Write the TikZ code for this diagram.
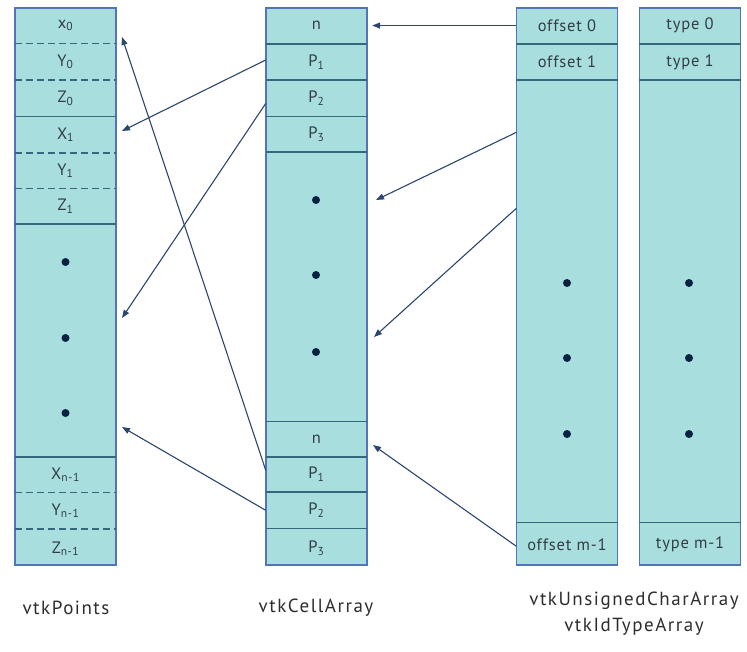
\documentclass[tikz,border=0pt]{standalone}
\usepackage{fontspec}
\setmainfont{PT Sans}
\newfontfamily\cellfont[LetterSpace=5]{PT Sans}
\newfontfamily\capfont[LetterSpace=8]{PT Sans}
\usetikzlibrary{arrows.meta, positioning}

\definecolor{cellfill}{RGB}{168,222,222}
\definecolor{colborder}{RGB}{84,116,186}
\definecolor{sepline}{RGB}{52,104,124}
\definecolor{arrowcol}{RGB}{44,70,110}
\definecolor{dotcol}{RGB}{10,34,66}
\definecolor{celltext}{RGB}{50,62,68}
\definecolor{labeltext}{RGB}{45,45,45}

\begin{document}
\begin{tikzpicture}[
        x=1pt, y=-1pt,
        node distance=0pt,
        column/.style={rectangle, draw=colborder, fill=cellfill, line width=1.3pt, minimum width=101pt, minimum height=557pt, inner sep=0pt},
        cell/.style={rectangle, minimum width=101pt, minimum height=36pt, inner sep=0pt, font=\cellfont\fontsize{16.5}{19}\selectfont, text=celltext},
        sep/.style={draw=sepline, line width=1.6pt},
        dsep/.style={sep, line width=1.3pt, dash pattern=on 7pt off 4pt},
        dot/.style={circle, fill=dotcol, inner sep=0pt, minimum size=8pt},
        ptr/.style={draw=arrowcol, line width=1.1pt, -{Triangle[length=8pt,width=6pt]}},
        caption/.style={font=\capfont\fontsize{19}{22}\selectfont, text=labeltext}
    ]

    \useasboundingbox (0,0) rectangle (747,652);

    % Columns
    \node [column] (pts) at (65.5,286.5) {};
    \node [column] (cells) at (316.5,286.5) {};
    \node [column] (offs) at (567,286.5) {};
    \node [column] (types) at (690,286.5) {};

    % vtkPoints
    \node [cell, below=of pts.north] (x0) {x\textsubscript{0}};
    \node [cell, below=of x0] (y0) {Y\textsubscript{0}};
    \node [cell, below=of y0] (z0) {Z\textsubscript{0}};
    \node [cell, below=of z0] (x1) {X\textsubscript{1}};
    \node [cell, minimum height=35pt, below=of x1] (y1) {Y\textsubscript{1}};
    \node [cell, minimum height=35pt, below=of y1] (z1) {Z\textsubscript{1}};
    \node [cell, minimum height=233pt, below=of z1] (pdots) {};
    \node [cell, minimum height=35pt, below=of pdots] (xn) {X\textsubscript{n-1}};
    \node [cell, below=of xn] (yn) {Y\textsubscript{n-1}};
    \node [cell, minimum height=39pt, below=of yn] (zn) {Z\textsubscript{n-1}};

    % vtkCellArray
    \node [cell, below=of cells.north] (n0) {n};
    \node [cell, below=of n0] (p1) {P\textsubscript{1}};
    \node [cell, below=of p1] (p2) {P\textsubscript{2}};
    \node [cell, minimum height=35pt, below=of p2] (p3) {P\textsubscript{3}};
    \node [cell, minimum height=269pt, below=of p3] (cdots) {};
    \node [cell, minimum height=35pt, below=of cdots] (nk) {n};
    \node [cell, minimum height=35pt, below=of nk] (q1) {P\textsubscript{1}};
    \node [cell, below=of q1] (q2) {P\textsubscript{2}};
    \node [cell, minimum height=39pt, below=of q2] (q3) {P\textsubscript{3}};

    % offsets and types
    \node [cell, below=of offs.north] (off0) {offset 0};
    \node [cell, below=of off0] (off1) {offset 1};
    \node [cell, minimum height=442pt, below=of off1] (odots) {};
    \node [cell, minimum height=43pt, below=of odots] (offm) {offset m-1};
    \node [cell, below=of types.north] (typ0) {type 0};
    \node [cell, below=of typ0] (typ1) {type 1};
    \node [cell, minimum height=442pt, below=of typ1] (tdots) {};
    \node [cell, minimum height=43pt, below=of tdots] (typm) {type m-1};

    % Separators
    \draw [dsep] (x0.south west) -- (x0.south east);
    \draw [dsep] (y0.south west) -- (y0.south east);
    \draw [sep] (z0.south west) -- (z0.south east);
    \draw [dsep] (x1.south west) -- (x1.south east);
    \draw [dsep] (y1.south west) -- (y1.south east);
    \draw [sep] (z1.south west) -- (z1.south east);
    \draw [sep] (pdots.south west) -- (pdots.south east);
    \draw [dsep] (xn.south west) -- (xn.south east);
    \draw [dsep] (yn.south west) -- (yn.south east);
    \draw [sep] (n0.south west) -- (n0.south east);
    \draw [sep] (p1.south west) -- (p1.south east);
    \draw [sep] (p2.south west) -- (p2.south east);
    \draw [sep] (p3.south west) -- (p3.south east);
    \draw [sep] (cdots.south west) -- (cdots.south east);
    \draw [sep] (nk.south west) -- (nk.south east);
    \draw [sep] (q1.south west) -- (q1.south east);
    \draw [sep] (q2.south west) -- (q2.south east);
    \draw [sep] (off0.south west) -- (off0.south east);
    \draw [sep] (off1.south west) -- (off1.south east);
    \draw [sep] (odots.south west) -- (odots.south east);
    \draw [sep] (typ0.south west) -- (typ0.south east);
    \draw [sep] (typ1.south west) -- (typ1.south east);
    \draw [sep] (tdots.south west) -- (tdots.south east);

    % Dots
    \foreach \y [count=\i] in {262,338,413}
        \node [dot] (pd\i) at (65.5,\y) {};
    \foreach \y [count=\i] in {200,275,352}
        \node [dot] (cd\i) at (316,\y) {};
    \foreach \y [count=\i] in {283,358,434} {
        \node [dot] (od\i) at (567,\y) {};
        \node [dot] (td\i) at (689,\y) {};
    }

    % Free ends of the pointers
    \coordinate (tx1) at (122,131);
    \coordinate (tpd) at (122,318);
    \coordinate (tx0) at (122,37);
    \coordinate (tpe) at (122,427);
    \coordinate (tcd) at (376,200);
    \coordinate (tce) at (374,337);
    \coordinate (tnk) at (373,445);

    % Pointers
    \path [ptr] (off0.west) -- ([xshift=5pt]n0.east);
    \path [ptr] ([yshift=2pt]p1.west) -- (tx1);
    \path [ptr] ([yshift=-5pt]p2.west) -- (tpd);
    \path [ptr] ([yshift=4pt]q1.west) -- (tx0);
    \path [ptr] (q2.west) -- (tpe);
    \path [ptr] ([yshift=169pt]odots.west) -- (tcd);
    \path [ptr] ([yshift=93pt]odots.west) -- (tce);
    \path [ptr] ([yshift=-2pt]offm.west) -- (tnk);

    % Captions
    \node [caption] (lpts) at (66,608) {vtkPoints};
    \node [caption] (lcells) at (316,608) {vtkCellArray};
    \node [caption] (lchar) at (634,601) {vtkUnsignedCharArray};
    \node [caption] (lid) at (634,627) {vtkIdTypeArray};

\end{tikzpicture}
\end{document}
